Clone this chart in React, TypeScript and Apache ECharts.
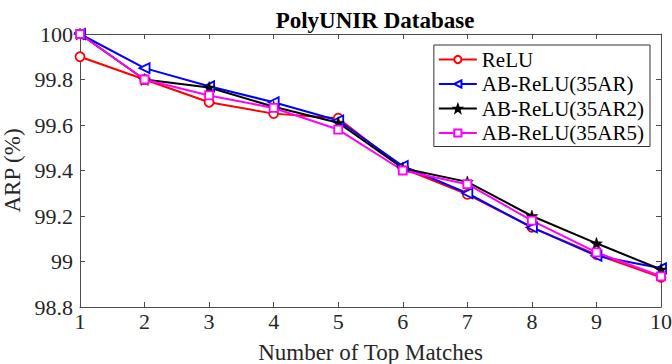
import React, { useEffect, useRef } from "react";
import * as echarts from "echarts";

const topMatches = [1, 2, 3, 4, 5, 6, 7, 8, 9, 10];
const relu = [99.9, 99.8, 99.7, 99.65, 99.63, 99.41, 99.295, 99.15, 99.03, 98.93];
const ab35AR = [100, 99.85, 99.77, 99.7, 99.62, 99.42, 99.3, 99.15, 99.025, 98.97];
const ab35AR2 = [100, 99.8, 99.765, 99.68, 99.61, 99.41, 99.35, 99.2, 99.08, 98.965];
const ab35AR5 = [100, 99.8, 99.73, 99.675, 99.58, 99.4, 99.34, 99.18, 99.04, 98.935];
const seriesNames = ["ReLU", "AB-ReLU(35AR)", "AB-ReLU(35AR2)", "AB-ReLU(35AR5)"];

const STAR =
  "path://M50 0L61.76 33.82L97.55 34.55L69.02 56.18L79.39 90.45L50 70L20.61 90.45L30.98 56.18L2.45 34.55L38.24 33.82Z";

const FONT = "Liberation Serif";

export default function App() {
  const ref = useRef<HTMLDivElement>(null);
  useEffect(() => {
    document.body.style.margin = "0";
    const chart = echarts.init(ref.current!, null, { renderer: "svg" });
    const mk = (data: number[]) => data.map((v, i) => [topMatches[i], v]);
    const axisLine = { show: true, lineStyle: { color: "#4d4d4d", width: 1 } };
    const tick = { show: true, inside: true, length: 5, lineStyle: { color: "#4d4d4d" } };
    chart.setOption({
      animation: false,
      backgroundColor: "#fff",
      textStyle: { fontFamily: FONT },
      title: {
        text: "PolyUNIR Database",
        left: 370,
        textAlign: "center",
        top: 4,
        textStyle: { fontFamily: FONT, fontSize: 23, fontWeight: "bold", color: "#000" },
      },
      legend: {
        orient: "vertical",
        right: 22,
        top: 45,
        itemWidth: 38,
        itemHeight: 9,
        itemGap: 3.5,
        padding: [4, 6, 3, 4],
        borderColor: "#333",
        borderWidth: 1,
        backgroundColor: "#fff",
        textStyle: { fontFamily: FONT, fontSize: 21, color: "#000" },
        data: seriesNames,
      },
      grid: {
        left: 80,
        right: 11,
        top: 34,
        bottom: 57,
        containLabel: false,
        outerBoundsMode: "none",
      },
      xAxis: [
        {
          type: "value",
          min: 1,
          max: 10,
          interval: 1,
          name: "Number of Top Matches",
          nameLocation: "middle",
          nameGap: 34,
          nameTextStyle: { fontFamily: FONT, fontSize: 23, color: "#262626" },
          axisLine,
          axisTick: tick,
          axisLabel: { fontFamily: FONT, fontSize: 22, color: "#262626", margin: 3 },
          splitLine: { show: false },
        },
        {
          type: "value",
          position: "top",
          min: 1,
          max: 10,
          interval: 1,
          axisLine,
          axisTick: tick,
          axisLabel: { show: false },
          splitLine: { show: false },
        },
      ],
      yAxis: [
        {
          type: "value",
          min: 98.8,
          max: 100,
          interval: 0.2,
          name: "ARP (%)",
          nameLocation: "middle",
          nameGap: 50,
          nameTextStyle: { fontFamily: FONT, fontSize: 23, color: "#262626" },
          axisLine,
          axisTick: tick,
          axisLabel: {
            fontFamily: FONT,
            fontSize: 22,
            color: "#262626",
            margin: 7,
            formatter: (v: number) => String(Math.round(v * 10) / 10),
          },
          splitLine: { show: false },
        },
        {
          type: "value",
          position: "right",
          min: 98.8,
          max: 100,
          interval: 0.2,
          axisLine,
          axisTick: tick,
          axisLabel: { show: false },
          splitLine: { show: false },
        },
      ],
      series: [
        {
          name: seriesNames[0],
          type: "line",
          data: mk(relu),
          symbol: "circle",
          symbolSize: 9,
          lineStyle: { color: "#ff0000", width: 2 },
          itemStyle: { color: "#fff", borderColor: "#ff0000", borderWidth: 1.8 },
        },
        {
          name: seriesNames[1],
          type: "line",
          data: mk(ab35AR),
          symbol: "triangle",
          symbolRotate: 90,
          symbolSize: 10,
          lineStyle: { color: "#0000ff", width: 2 },
          itemStyle: { color: "#fff", borderColor: "#0000ff", borderWidth: 1.8 },
        },
        {
          name: seriesNames[2],
          type: "line",
          data: mk(ab35AR2),
          symbol: STAR,
          symbolSize: 12,
          lineStyle: { color: "#000", width: 2 },
          itemStyle: { color: "#000", borderColor: "#000", borderWidth: 0.5 },
        },
        {
          name: seriesNames[3],
          type: "line",
          data: mk(ab35AR5),
          symbol: "rect",
          symbolSize: 8,
          lineStyle: { color: "#ff00ff", width: 2 },
          itemStyle: { color: "#fff", borderColor: "#ff00ff", borderWidth: 1.8 },
        },
      ],
    });
    return () => chart.dispose();
  }, []);
  return <div ref={ref} style={{ width: 672, height: 364 }} />;
}
